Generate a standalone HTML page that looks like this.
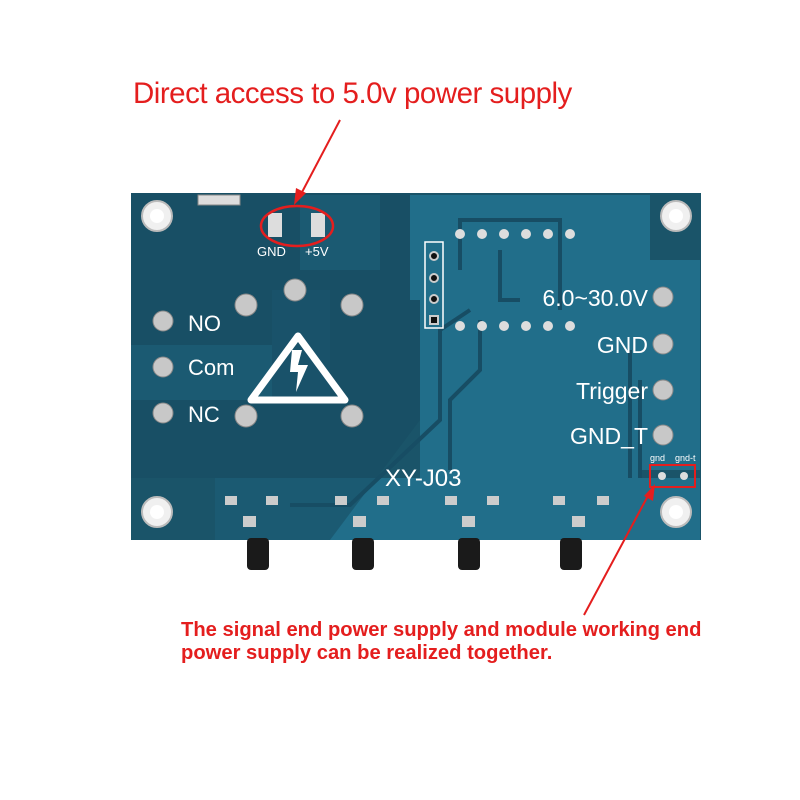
<!DOCTYPE html>
<html><head><style>body{margin:0;background:#fff}svg{display:block}</style></head><body>
<svg width="800" height="800" viewBox="0 0 800 800" xmlns="http://www.w3.org/2000/svg" font-family="Liberation Sans, sans-serif">
<rect width="800" height="800" fill="#fff"/>
<rect x="131" y="193" width="570" height="347" fill="#1a5469"/>
<path d="M410 195 L650 195 L650 260 L700 260 L700 470 L640 470 L640 480 L420 480 L420 300 L410 300 Z" fill="#216e8a"/>
<path d="M215 478 L700 478 L700 540 L215 540 Z" fill="#216e8a"/>
<path d="M131 345 L272 345 L272 290 L330 290 L330 400 L131 400 Z" fill="#216e8a"/>
<path d="M300 195 L380 195 L380 270 L300 270 Z" fill="#216e8a"/>
<path d="M131 193 L410 193 L410 300 L420 300 L420 420 L330 540 L215 540 L215 478 L131 478 Z" fill="#174d62" opacity="0.6"/>
<path d="M272 290 L330 290 L330 400 L272 400 Z" fill="#19526a"/>
<g stroke="#174d64" stroke-width="4" fill="none">
<path d="M450 470 L450 400 L480 370 L480 320"/>
<path d="M290 505 L350 505 L440 420 L440 330 L470 310"/>
<path d="M630 478 L630 350"/>
<path d="M640 478 L640 380"/>
<path d="M460 270 L460 220 L560 220 L560 310"/>
<path d="M500 250 L500 300 L520 300"/>
</g>
<rect x="198" y="195" width="42" height="10" fill="#ddd" stroke="#888"/>
<rect x="268" y="213" width="14" height="24" fill="#ddd"/>
<rect x="311" y="213" width="14" height="24" fill="#ddd"/>
<ellipse cx="297" cy="226" rx="36" ry="20" fill="none" stroke="#e41e1e" stroke-width="2.5"/>
<text x="257" y="256" font-size="13" fill="#fff">GND</text>
<text x="305" y="256" font-size="13" fill="#fff">+5V</text>
<g fill="#f0f0f0" stroke="#bbb" stroke-width="2">
<circle cx="157" cy="216" r="15"/><circle cx="676" cy="216" r="15"/>
<circle cx="157" cy="512" r="15"/><circle cx="676" cy="512" r="15"/>
</g>
<g fill="#ffffff"><circle cx="157" cy="216" r="7"/><circle cx="676" cy="216" r="7"/><circle cx="157" cy="512" r="7"/><circle cx="676" cy="512" r="7"/></g>
<g fill="#c8c8c8" stroke="#888">
<circle cx="163" cy="321" r="10"/><circle cx="163" cy="367" r="10"/><circle cx="163" cy="413" r="10"/>
<circle cx="246" cy="305" r="11"/><circle cx="246" cy="416" r="11"/>
<circle cx="352" cy="305" r="11"/><circle cx="352" cy="416" r="11"/>
<circle cx="295" cy="290" r="11"/>
<circle cx="663" cy="297" r="10"/><circle cx="663" cy="344" r="10"/><circle cx="663" cy="390" r="10"/><circle cx="663" cy="435" r="10"/>
</g>
<text x="188" y="331" font-size="22" fill="#fff">NO</text>
<text x="188" y="375" font-size="22" fill="#fff">Com</text>
<text x="188" y="422" font-size="22" fill="#fff">NC</text>
<path d="M298 336 L345 400 L251 400 Z" fill="none" stroke="#fff" stroke-width="7" stroke-linejoin="round"/>
<path d="M292 350 L302 350 L298 365 L308 365 L296 392 L298 372 L290 372 Z" fill="#fff"/>
<rect x="425" y="242" width="18" height="86" fill="none" stroke="#fff" stroke-width="1.5"/>
<g fill="#111" stroke="#ccc" stroke-width="2"><circle cx="434" cy="256" r="4"/><circle cx="434" cy="278" r="4"/><circle cx="434" cy="299" r="4"/><rect x="430" y="316" width="8" height="8"/></g>
<g fill="#ddd">
<circle cx="460" cy="234" r="5"/><circle cx="482" cy="234" r="5"/><circle cx="504" cy="234" r="5"/><circle cx="526" cy="234" r="5"/><circle cx="548" cy="234" r="5"/><circle cx="570" cy="234" r="5"/>
<circle cx="460" cy="326" r="5"/><circle cx="482" cy="326" r="5"/><circle cx="504" cy="326" r="5"/><circle cx="526" cy="326" r="5"/><circle cx="548" cy="326" r="5"/><circle cx="570" cy="326" r="5"/>
</g>
<text x="648" y="306" font-size="23" fill="#fff" text-anchor="end">6.0~30.0V</text>
<text x="648" y="353" font-size="23" fill="#fff" text-anchor="end">GND</text>
<text x="648" y="399" font-size="23" fill="#fff" text-anchor="end">Trigger</text>
<text x="648" y="444" font-size="23" fill="#fff" text-anchor="end">GND_T</text>
<text x="650" y="461" font-size="9" fill="#fff">gnd</text>
<text x="675" y="461" font-size="9" fill="#fff">gnd-t</text>
<rect x="650" y="465" width="45" height="22" fill="none" stroke="#e41e1e" stroke-width="2"/>
<circle cx="662" cy="476" r="4" fill="#ddd"/><circle cx="684" cy="476" r="4" fill="#ddd"/>
<text x="385" y="486" font-size="24" fill="#fff">XY-J03</text>
<g fill="#ccc">
<rect x="225" y="496" width="12" height="9"/><rect x="266" y="496" width="12" height="9"/><rect x="243" y="516" width="13" height="11"/>
<rect x="335" y="496" width="12" height="9"/><rect x="377" y="496" width="12" height="9"/><rect x="353" y="516" width="13" height="11"/>
<rect x="445" y="496" width="12" height="9"/><rect x="487" y="496" width="12" height="9"/><rect x="462" y="516" width="13" height="11"/>
<rect x="553" y="496" width="12" height="9"/><rect x="597" y="496" width="12" height="9"/><rect x="572" y="516" width="13" height="11"/>
</g>
<g fill="#1a1a1a">
<rect x="247" y="538" width="22" height="32" rx="4"/><rect x="352" y="538" width="22" height="32" rx="4"/>
<rect x="458" y="538" width="22" height="32" rx="4"/><rect x="560" y="538" width="22" height="32" rx="4"/>
</g>
<text x="133" y="103" font-size="29.5" fill="#e41e1e" letter-spacing="-0.5">Direct access to 5.0v power supply</text>
<line x1="340" y1="120" x2="300" y2="196" stroke="#e41e1e" stroke-width="2"/>
<path d="M294 205 L296 188 L306 193 Z" fill="#e41e1e"/>
<line x1="584" y1="615" x2="650" y2="492" stroke="#e41e1e" stroke-width="2"/>
<path d="M655 484 L653 501 L644 496 Z" fill="#e41e1e"/>
<text x="181" y="636" font-size="20.2" font-weight="bold" fill="#e41e1e">The signal end power supply and module working end</text>
<text x="181" y="659" font-size="20.2" font-weight="bold" fill="#e41e1e">power supply can be realized together.</text>
</svg>
</body></html>
